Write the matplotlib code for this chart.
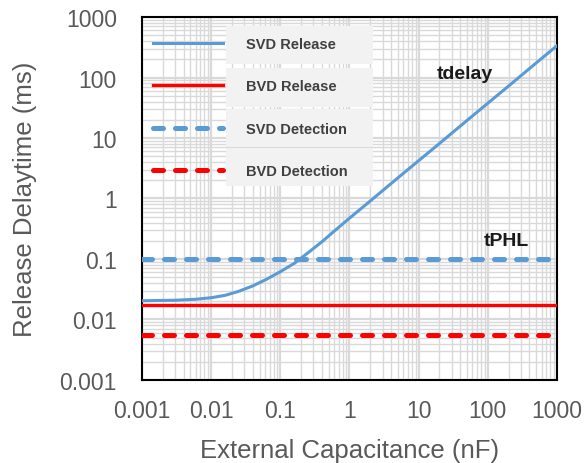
import matplotlib
matplotlib.use("Agg")
import matplotlib.pyplot as plt
from matplotlib.ticker import FixedLocator, FixedFormatter, LogLocator, NullFormatter
from matplotlib.patches import Rectangle

plt.rcParams['font.family'] = ['Liberation Sans', 'DejaVu Sans']

# ---- data ----
cap_nF = [0.001, 0.003, 0.006, 0.01, 0.016, 0.025, 0.04, 0.063, 0.1, 0.16, 0.25, 0.4, 0.63, 1,
          2, 5, 10, 20, 50, 100, 200, 500, 1000]
svd_release = [0.0204, 0.0208, 0.0216, 0.0229, 0.0251, 0.0292, 0.0359, 0.0462, 0.0617, 0.0851,
               0.126, 0.193, 0.302, 0.473, 0.912, 2.19, 4.22, 8.13, 19.5, 37.6, 72.4, 174, 335]
bvd_release = 0.0175
svd_detection = 0.1
bvd_detection = 0.0055
x_range = [0.001, 1000]

tick_vals = [0.001, 0.01, 0.1, 1, 10, 100, 1000]
tick_labels = ['0.001', '0.01', '0.1', '1', '10', '100', '1000']

series_names = ['SVD Release', 'BVD Release', 'SVD Detection', 'BVD Detection']
annotation_texts = ['tdelay', 'tPHL']

blue = '#5B9BD5'
red = '#FF0000'

fig = plt.figure(figsize=(5.87, 4.64), dpi=100)
ax = fig.add_axes([0.2419, 0.1789, 0.707, 0.7823])
ax.set_xscale('log')
ax.set_yscale('log')
ax.set_xlim(x_range)
ax.set_ylim(0.001, 1000)

# grid
ax.xaxis.set_major_locator(FixedLocator(tick_vals))
ax.yaxis.set_major_locator(FixedLocator(tick_vals))
ax.xaxis.set_major_formatter(FixedFormatter(tick_labels))
ax.yaxis.set_major_formatter(FixedFormatter(tick_labels))
ax.xaxis.set_minor_locator(LogLocator(base=10, subs=range(2, 10), numticks=20))
ax.yaxis.set_minor_locator(LogLocator(base=10, subs=range(2, 10), numticks=20))
ax.xaxis.set_minor_formatter(NullFormatter())
ax.yaxis.set_minor_formatter(NullFormatter())
ax.grid(which='major', color='#d9d9d9', linewidth=1.6, zorder=0)
ax.grid(which='minor', color='#d9d9d9', linewidth=1.0, zorder=0)
ax.set_axisbelow(True)

ax.tick_params(which='both', length=0)
ax.tick_params(axis='y', pad=18, labelsize=16.5, labelcolor='#595959')
ax.tick_params(axis='x', pad=14, labelsize=16.5, labelcolor='#595959')

for s in ax.spines.values():
    s.set_linewidth(1.5)
    s.set_color('black')

dash = (2.0, 2.4)
l1, = ax.plot(cap_nF, svd_release, color=blue, lw=2.2, zorder=3)
l2, = ax.plot(x_range, [bvd_release] * 2, color=red, lw=2.4, zorder=3)
l3, = ax.plot(x_range, [svd_detection] * 2, color=blue, lw=3.6, ls=(0, dash),
              dash_capstyle='round', zorder=3)
l4, = ax.plot(x_range, [bvd_detection] * 2, color=red, lw=3.6, ls=(0, dash),
              dash_capstyle='round', zorder=3)

# legend background boxes (axes fraction)
for (y0, y1) in [(27, 65), (69, 108), (110, 148), (149, 187)]:
    ax.add_patch(Rectangle(((226 - 142) / 415, (381 - y1) / 363), 147 / 415, (y1 - y0) / 363,
                           transform=ax.transAxes, facecolor='#f2f2f2', edgecolor='none', zorder=2))

leg = ax.legend([l1, l2, l3, l4], series_names, loc='upper left',
                bbox_to_anchor=((153 - 142) / 415, (381 - 38) / 363),
                frameon=False, borderaxespad=0, borderpad=0,
                handlelength=4.8, handletextpad=1.6, labelspacing=1.95,
                prop={'size': 10.5, 'weight': 'bold'})
for t in leg.get_texts():
    t.set_color('#404040')
leg.set_zorder(4)

ax.text(0.778, 0.845, annotation_texts[0], transform=ax.transAxes, fontsize=14,
        fontweight='bold', color='#1a1a1a', ha='center', va='center', zorder=5)
ax.text(0.877, 0.385, annotation_texts[1], transform=ax.transAxes, fontsize=14,
        fontweight='bold', color='#1a1a1a', ha='center', va='center', zorder=5)

ax.set_xlabel('External Capacitance (nF)', fontsize=18.5, color='#595959', labelpad=11)
ax.set_ylabel('Release Delaytime (ms)', fontsize=18.5, color='#595959', labelpad=16)

fig.savefig('out.png', dpi=100)
